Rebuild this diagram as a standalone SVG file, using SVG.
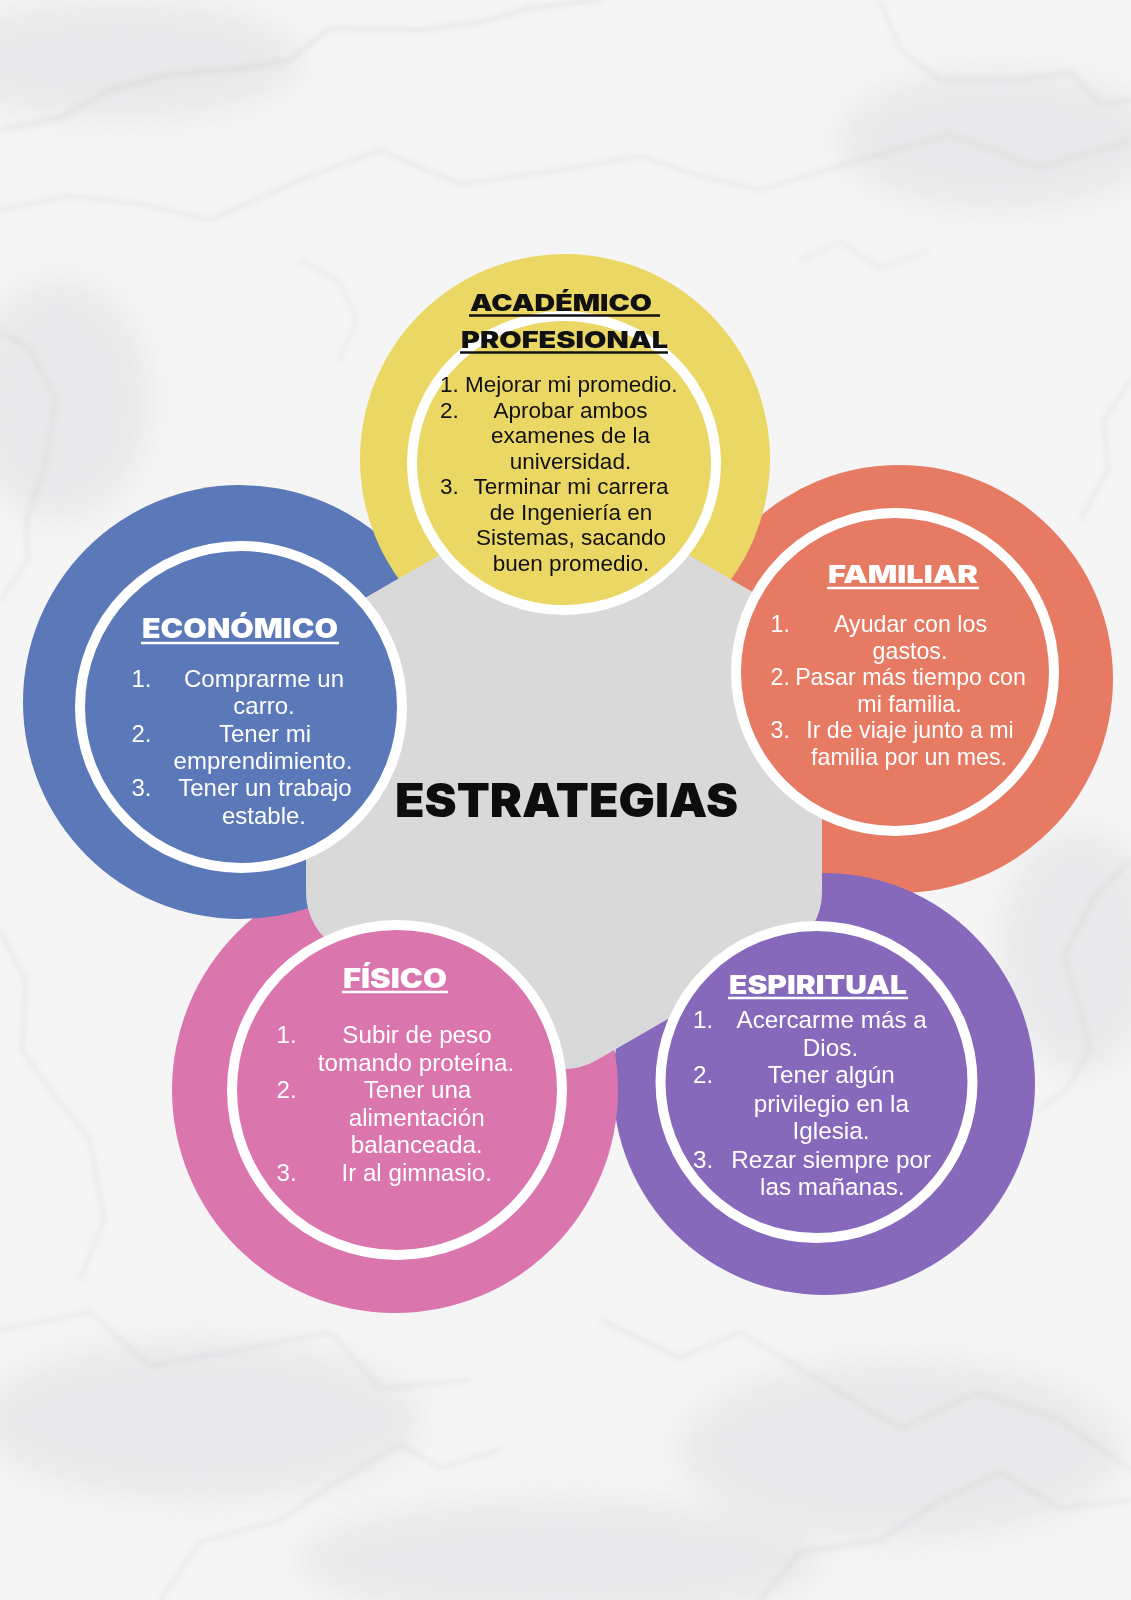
<svg xmlns="http://www.w3.org/2000/svg" width="1131" height="1600" viewBox="0 0 1131 1600">
  <defs>
    <filter id="soft" x="-20%" y="-20%" width="140%" height="140%">
      <feGaussianBlur stdDeviation="2.5"/>
    </filter>
    <filter id="softer" x="-30%" y="-30%" width="160%" height="160%">
      <feGaussianBlur stdDeviation="14"/>
    </filter>
    <style>
      .vein { fill: none; stroke: #c4c4c8; stroke-linecap: round; opacity: 0.45; }
      .patch { fill: #e4e4e7; opacity: 0.7; }
      .ring { stroke: #ffffff; stroke-width: 10; }
      .head { font-family: Inter, "Open Sans", "Liberation Sans", sans-serif; font-weight: 900; }
      .headW { fill: #ffffff; }
      .headK { fill: #111111; }
      .ul { stroke-width: 2.4; }
      .body { font-family: "Liberation Sans", Arial, sans-serif; }
      .bW { fill: #ffffff; }
      .bK { fill: #111111; }
      .mid { text-anchor: middle; }
      .title { font-family: Inter, "Open Sans", "Liberation Sans", sans-serif; font-weight: 900; fill: #0d0d0d; }
    </style>
  </defs>

  <!-- marble background -->
  <g id="background">
    <rect x="0" y="0" width="1131" height="1600" fill="#f5f5f6"/>
    <g filter="url(#softer)">
      <ellipse class="patch" cx="120" cy="60" rx="180" ry="60"/>
      <ellipse class="patch" cx="1000" cy="140" rx="160" ry="70"/>
      <ellipse class="patch" cx="60" cy="400" rx="90" ry="120"/>
      <ellipse class="patch" cx="1080" cy="950" rx="80" ry="120"/>
      <ellipse class="patch" cx="200" cy="1420" rx="220" ry="80"/>
      <ellipse class="patch" cx="900" cy="1450" rx="220" ry="90"/>
      <ellipse class="patch" cx="560" cy="1560" rx="260" ry="60"/>
    </g>
    <g filter="url(#soft)">
      <path class="vein" stroke-width="2.5" d="M0,130 L60,118 L110,90 L170,74 L230,70 L290,60 L330,28 L420,30 L480,22 L530,8 L600,0"/>
      <path class="vein" stroke-width="2" d="M0,210 L70,196 L140,204 L210,220 L300,180 L380,150 L460,184 L560,170 L640,156 L700,176 L760,190 L860,160 L950,134 L1040,168 L1131,140"/>
      <path class="vein" stroke-width="2" d="M880,0 L900,50 L940,80 L1020,80 L1070,72 L1100,104 L1131,100"/>
      <path class="vein" stroke-width="2" d="M0,330 L30,350 L56,400 L44,470 L26,520 L28,560 L0,600"/>
      <path class="vein" stroke-width="2" d="M1131,380 L1104,420 L1108,470 L1080,520"/>
      <path class="vein" stroke-width="2" d="M1131,860 L1094,896 L1064,956 L1080,1010 L1090,1050 L1066,1090 L1040,1110"/>
      <path class="vein" stroke-width="2" d="M0,930 L26,980 L22,1050 L58,1100 L90,1140 L104,1220 L80,1280"/>
      <path class="vein" stroke-width="2" d="M0,1330 L90,1312 L150,1366 L240,1350 L330,1332 L380,1388 L470,1380"/>
      <path class="vein" stroke-width="2" d="M600,1320 L680,1358 L740,1332 L820,1380 L900,1428 L980,1392 L1060,1420 L1131,1470"/>
      <path class="vein" stroke-width="2" d="M160,1600 L200,1542 L280,1520 L340,1480 L400,1444 L440,1468 L500,1450"/>
      <path class="vein" stroke-width="2" d="M760,1600 L800,1552 L880,1540 L940,1500 L1000,1472 L1060,1508 L1131,1500"/>
      <path class="vein" stroke-width="1.5" d="M300,260 L340,282 L356,320 L340,360"/>
      <path class="vein" stroke-width="1.5" d="M800,260 L840,242 L880,268 L930,250"/>
    </g>
  </g>

  <!-- outer coloured discs (stacking: orange, purple, pink, blue, yellow) -->
  <g id="outer-discs">
    <circle id="disc-familiar" cx="899" cy="679" r="214" fill="#e67a63"/>
    <circle id="disc-espiritual" cx="824" cy="1084" r="211" fill="#8769bc"/>
    <circle id="disc-fisico" cx="395" cy="1090" r="223" fill="#db75ad"/>
    <circle id="disc-economico" cx="240" cy="702" r="217" fill="#5b78b8"/>
    <circle id="disc-academico" cx="565" cy="459" r="205" fill="#ebd764"/>
  </g>

  <!-- central hexagon -->
  <g id="node-estrategias">
    <path fill="#d9d9d9" d="M596.5,501.75 L789.5,613.25 A65,65 0 0 1 822,669.5 L822,892.5 A65,65 0 0 1 789.5,948.75 L596.5,1060.25 A65,65 0 0 1 531.5,1060.25 L338.5,948.75 A65,65 0 0 1 306,892.5 L306,669.5 A65,65 0 0 1 338.5,613.25 L531.5,501.75 A65,65 0 0 1 596.5,501.75 Z"/>
    <text class="title" x="395" y="817" font-size="47" textLength="343" lengthAdjust="spacingAndGlyphs">ESTRATEGIAS</text>
  </g>

  <g id="connectors"></g>

  <!-- ACADÉMICO PROFESIONAL -->
  <g id="node-academico">
    <ellipse class="ring" cx="564" cy="463" rx="152" ry="147" fill="#ebd764"/>
    <text class="head headK" x="470" y="311" font-size="22.5" textLength="182" lengthAdjust="spacingAndGlyphs">ACADÉMICO</text>
    <line class="ul" x1="469" y1="315.5" x2="660" y2="315.5" stroke="#111111"/>
    <text class="head headK" x="461" y="347.5" font-size="22.5" textLength="207" lengthAdjust="spacingAndGlyphs">PROFESIONAL</text>
    <line class="ul" x1="460" y1="352.5" x2="668" y2="352.5" stroke="#111111"/>
    <g class="body bK" font-size="22.5">
      <text x="440" y="392">1. Mejorar mi promedio.</text>
      <text x="440" y="417.5">2.</text>
      <text class="mid" x="570.5" y="417.5">Aprobar ambos</text>
      <text class="mid" x="570.5" y="443">examenes de la</text>
      <text class="mid" x="570.5" y="468.5">universidad.</text>
      <text x="440" y="494">3.</text>
      <text class="mid" x="571" y="494">Terminar mi carrera</text>
      <text class="mid" x="571" y="519.5">de Ingeniería en</text>
      <text class="mid" x="571" y="545">Sistemas, sacando</text>
      <text class="mid" x="571" y="570.5">buen promedio.</text>
    </g>
  </g>

  <!-- ECONÓMICO -->
  <g id="node-economico">
    <circle class="ring" cx="241" cy="707" r="161" fill="#5b78b8"/>
    <text class="head headW" x="142" y="638" font-size="27.5" textLength="196" lengthAdjust="spacingAndGlyphs">ECONÓMICO</text>
    <line class="ul" x1="141" y1="643" x2="339" y2="643" stroke="#ffffff"/>
    <g class="body bW" font-size="24">
      <text x="131.5" y="687">1.</text>
      <text class="mid" x="264" y="687">Comprarme un</text>
      <text class="mid" x="264" y="714.3">carro.</text>
      <text x="131.5" y="741.6">2.</text>
      <text class="mid" x="265" y="741.6">Tener mi</text>
      <text class="mid" x="263" y="768.9">emprendimiento.</text>
      <text x="131.5" y="796.2">3.</text>
      <text class="mid" x="265" y="796.2">Tener un trabajo</text>
      <text class="mid" x="264" y="823.5">estable.</text>
    </g>
  </g>

  <!-- FAMILIAR -->
  <g id="node-familiar">
    <circle class="ring" cx="895" cy="672" r="159" fill="#e67a63"/>
    <text class="head headW" x="828" y="583" font-size="24.5" textLength="150" lengthAdjust="spacingAndGlyphs">FAMILIAR</text>
    <line class="ul" x1="827" y1="588" x2="979" y2="588" stroke="#ffffff"/>
    <g class="body bW" font-size="23.2">
      <text x="770.5" y="632">1.</text>
      <text class="mid" x="910.5" y="632">Ayudar con los</text>
      <text class="mid" x="910" y="658.5">gastos.</text>
      <text x="770.5" y="685">2.</text>
      <text class="mid" x="910.5" y="685">Pasar más tiempo con</text>
      <text class="mid" x="909.5" y="711.5">mi familia.</text>
      <text x="770.5" y="738">3.</text>
      <text class="mid" x="910" y="738">Ir de viaje junto a mi</text>
      <text class="mid" x="909" y="764.5">familia por un mes.</text>
    </g>
  </g>

  <!-- FÍSICO -->
  <g id="node-fisico">
    <circle class="ring" cx="397" cy="1090" r="165" fill="#db75ad"/>
    <text class="head headW" x="343" y="988" font-size="26.5" textLength="104" lengthAdjust="spacingAndGlyphs">FÍSICO</text>
    <line class="ul" x1="342" y1="992" x2="448" y2="992" stroke="#ffffff"/>
    <g class="body bW" font-size="24.2">
      <text x="276.5" y="1043">1.</text>
      <text class="mid" x="417" y="1043">Subir de peso</text>
      <text class="mid" x="416" y="1070.7">tomando proteína.</text>
      <text x="276.5" y="1098">2.</text>
      <text class="mid" x="417.5" y="1098">Tener una</text>
      <text class="mid" x="416.7" y="1125.7">alimentación</text>
      <text class="mid" x="416.7" y="1153">balanceada.</text>
      <text x="276.5" y="1181">3.</text>
      <text class="mid" x="416.7" y="1181">Ir al gimnasio.</text>
    </g>
  </g>

  <!-- ESPIRITUAL -->
  <g id="node-espiritual">
    <circle class="ring" cx="816.5" cy="1082" r="156" fill="#8769bc"/>
    <text class="head headW" x="729" y="994" font-size="25.5" textLength="178" lengthAdjust="spacingAndGlyphs">ESPIRITUAL</text>
    <line class="ul" x1="728" y1="998" x2="908" y2="998" stroke="#ffffff"/>
    <g class="body bW" font-size="24.3">
      <text x="693" y="1028.3">1.</text>
      <text class="mid" x="831.7" y="1028.3">Acercarme más a</text>
      <text class="mid" x="830.5" y="1056">Dios.</text>
      <text x="693" y="1083.3">2.</text>
      <text class="mid" x="831.3" y="1083.3">Tener algún</text>
      <text class="mid" x="831.3" y="1111.7">privilegio en la</text>
      <text class="mid" x="831" y="1139.3">Iglesia.</text>
      <text x="693" y="1167.7">3.</text>
      <text class="mid" x="831.2" y="1167.7">Rezar siempre por</text>
      <text class="mid" x="832.3" y="1195">las mañanas.</text>
    </g>
  </g>
</svg>
